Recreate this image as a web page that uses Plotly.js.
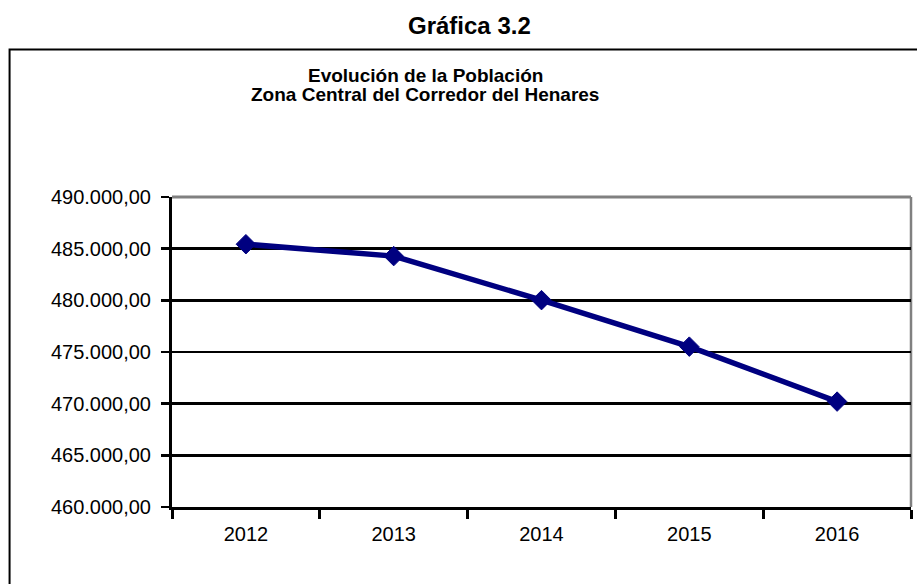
<!DOCTYPE html>
<html>
<head>
<meta charset="utf-8">
<script src="https://cdn.plot.ly/plotly-3.0.1.min.js"></script>
<style>
  html, body { margin: 0; padding: 0; background: #ffffff; }
  #chart { width: 917px; height: 584px; }
</style>
</head>
<body>
<div id="chart"></div>
<script>
const years = ['2012', '2013', '2014', '2015', '2016'];
const population = [485430, 484280, 480020, 475520, 470200];
const yTickValues = [460000, 465000, 470000, 475000, 480000, 485000, 490000];
const figureLabel = 'Gráfica 3.2';
const titleLine1 = 'Evolución de la Población';
const titleLine2 = 'Zona Central del Corredor del Henares';

const FONT = 'Liberation Sans, Arial, sans-serif';

const trace = {
  type: 'scatter',
  mode: 'lines+markers',
  x: years,
  y: population,
  line: { color: '#000080', width: 5.5 },
  marker: { symbol: 'diamond', size: 15, color: '#000080', line: { color: '#000080', width: 1 } },
  hoverinfo: 'skip',
  cliponaxis: false
};

const layout = {
  width: 917,
  height: 584,
  margin: { l: 172, r: 6, t: 197, b: 77, pad: 0 },
  paper_bgcolor: '#ffffff',
  plot_bgcolor: '#ffffff',
  separators: ',.',
  showlegend: false,
  font: { family: FONT, size: 20, color: '#000000' },
  xaxis: {
    type: 'category',
    range: [-0.5, years.length - 0.5],
    tickson: 'boundaries',
    ticks: 'outside',
    ticklen: 9,
    tickwidth: 3,
    tickcolor: '#000000',
    showline: true,
    linecolor: '#000000',
    linewidth: 3,
    showgrid: false,
    zeroline: false,
    ticklabelstandoff: 7,
    tickfont: { family: FONT, size: 20, color: '#000000' },
    fixedrange: true
  },
  yaxis: {
    range: [460000, 490000],
    tickvals: yTickValues,
    tickformat: ',.2f',
    ticks: 'outside',
    ticklen: 8,
    tickwidth: 2.5,
    tickcolor: '#000000',
    showline: true,
    linecolor: '#000000',
    linewidth: 3,
    showgrid: true,
    gridcolor: '#000000',
    gridwidth: 2.5,
    zeroline: false,
    ticklabelstandoff: 6,
    tickfont: { family: FONT, size: 20, color: '#000000' },
    fixedrange: true
  },
  shapes: [
    { type: 'rect', xref: 'paper', yref: 'paper', x0: -0.2198, x1: 1.05, y0: -0.4, y1: 1.4755,
      line: { color: '#000000', width: 2 }, fillcolor: 'rgba(0,0,0,0)', layer: 'below' },
    { type: 'line', xref: 'paper', yref: 'paper', x0: 0, x1: 1, y0: 1, y1: 1,
      line: { color: '#808080', width: 3 }, layer: 'above' },
    { type: 'line', xref: 'paper', yref: 'paper', x0: 1, x1: 1, y0: 0, y1: 1,
      line: { color: '#808080', width: 2.5 }, layer: 'below' }
  ],
  annotations: [
    { text: '<b>' + figureLabel + '</b>', xref: 'paper', yref: 'paper', x: 0.4023, y: 1 + (197 - 25.3) / 310,
      xanchor: 'center', yanchor: 'middle', showarrow: false, font: { family: FONT, size: 24, color: '#000000' } },
    { text: '<b>' + titleLine1 + '</b>', xref: 'paper', yref: 'paper', x: 0.343, y: 1 + (197 - 75) / 310,
      xanchor: 'center', yanchor: 'middle', showarrow: false, font: { family: FONT, size: 19, color: '#000000' } },
    { text: '<b>' + titleLine2 + '</b>', xref: 'paper', yref: 'paper', x: 0.343, y: 1 + (197 - 95) / 310,
      xanchor: 'center', yanchor: 'middle', showarrow: false, font: { family: FONT, size: 19, color: '#000000' } }
  ]
};

Plotly.newPlot('chart', [trace], layout, { displayModeBar: false, staticPlot: true });
</script>
</body>
</html>
